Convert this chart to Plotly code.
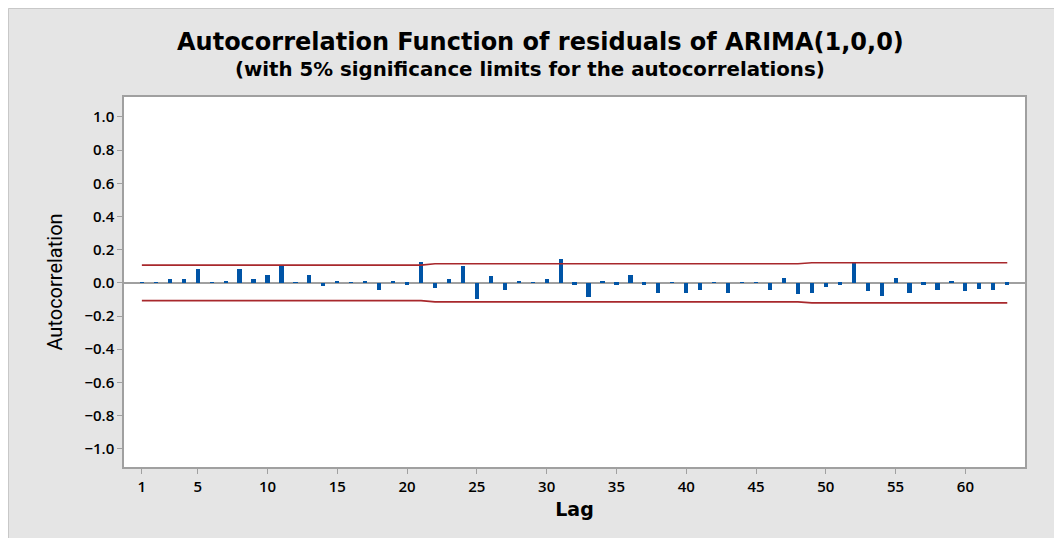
import plotly.graph_objects as go

lags = list(range(1, 64))
acf = [0.002, 0.002, 0.022, 0.022, 0.083, 0.002, 0.014, 0.083, 0.022, 0.048,
       0.107, 0.002, 0.048, -0.022, 0.014, 0.002, 0.014, -0.045, 0.014, -0.012,
       0.125, -0.030, 0.022, 0.099, -0.097, 0.040, -0.045, 0.014, 0.002, 0.022,
       0.141, -0.012, -0.087, 0.014, -0.012, 0.048, -0.012, -0.060, 0.002, -0.060,
       -0.045, 0.002, -0.060, 0.002, 0.002, -0.045, 0.032, -0.068, -0.060, -0.028,
       -0.012, 0.121, -0.052, -0.079, 0.032, -0.060, -0.012, -0.045, 0.014, -0.052,
       -0.036, -0.045, -0.012]
upper_limit = [0.107] * 21 + [0.115] * 27 + [0.121] * 15
lower_limit = [-v for v in upper_limit]

x_ticks = [1, 5, 10, 15, 20, 25, 30, 35, 40, 45, 50, 55, 60]
y_ticks = [1.0, 0.8, 0.6, 0.4, 0.2, 0.0, -0.2, -0.4, -0.6, -0.8, -1.0]

title_text = "Autocorrelation Function of residuals of ARIMA(1,0,0)"
subtitle_text = "(with 5% significance limits for the autocorrelations)"

BAR = "#0054a6"
LIM = "#a8282c"
AX = "#a0a0a0"
FONT = "Open Sans, Noto Sans, sans-serif"
TFONT = "DejaVu Sans, sans-serif"

fig = go.Figure()
fig.add_trace(go.Bar(x=lags, y=acf, width=0.3, marker=dict(color=BAR, line=dict(width=0)),
                     showlegend=False, hoverinfo="x+y"))
fig.add_trace(go.Scatter(x=lags, y=upper_limit, mode="lines", line=dict(color=LIM, width=1.6),
                         showlegend=False))
fig.add_trace(go.Scatter(x=lags, y=lower_limit, mode="lines", line=dict(color=LIM, width=1.6),
                         showlegend=False))

shapes = [
    dict(type="rect", xref="paper", yref="paper", x0=-0.12819, x1=1.3, y0=-0.5, y1=1.23919,
         fillcolor="rgba(0,0,0,0)", line=dict(color="#c8c8c8", width=1), layer="above"),
]

annotations = [
    dict(text="<b>" + title_text + "</b>", xref="paper", yref="paper", x=0.4623, y=1.1486,
         xanchor="center", yanchor="middle", showarrow=False,
         font=dict(family=TFONT, size=24, color="black")),
    dict(text="<b>" + subtitle_text + "</b>", xref="paper", yref="paper", x=0.4506, y=1.073,
         xanchor="center", yanchor="middle", showarrow=False,
         font=dict(family=TFONT, size=19.8, color="black")),
]

fig.update_layout(
    width=1054, height=530,
    margin=dict(l=116, r=37, t=89, b=71),
    paper_bgcolor="#e5e5e5",
    plot_bgcolor="white",
    shapes=shapes,
    annotations=annotations,
    xaxis=dict(
        range=[-0.28, 64.27], tickmode="array", tickvals=x_ticks,
        ticks="outside", ticklen=5, tickcolor=AX, tickwidth=1.2,
        showline=True, linecolor=AX, linewidth=1.5, mirror=True, showgrid=False, zeroline=False,
        tickfont=dict(family=FONT, size=15, color="black", weight=600),
        title=dict(text="Lag", font=dict(family=TFONT, size=19, color="black", weight="bold"), standoff=8),
    ),
    yaxis=dict(
        range=[-1.11, 1.12], tickmode="array", tickvals=y_ticks, tickformat=".1f",
        ticks="outside", ticklen=5, tickcolor=AX, tickwidth=1.2,
        showline=True, linecolor=AX, linewidth=1.5, mirror=True, showgrid=False,
        zeroline=True, zerolinecolor=AX, zerolinewidth=1.5,
        tickfont=dict(family=FONT, size=15, color="black", weight=600),
        title=dict(text="Autocorrelation",
                   font=dict(family="Liberation Sans Narrow, Roboto, sans-serif", size=20, color="black"),
                   standoff=16),
    ),
    bargap=0,
)

fig.write_html("out.html")
